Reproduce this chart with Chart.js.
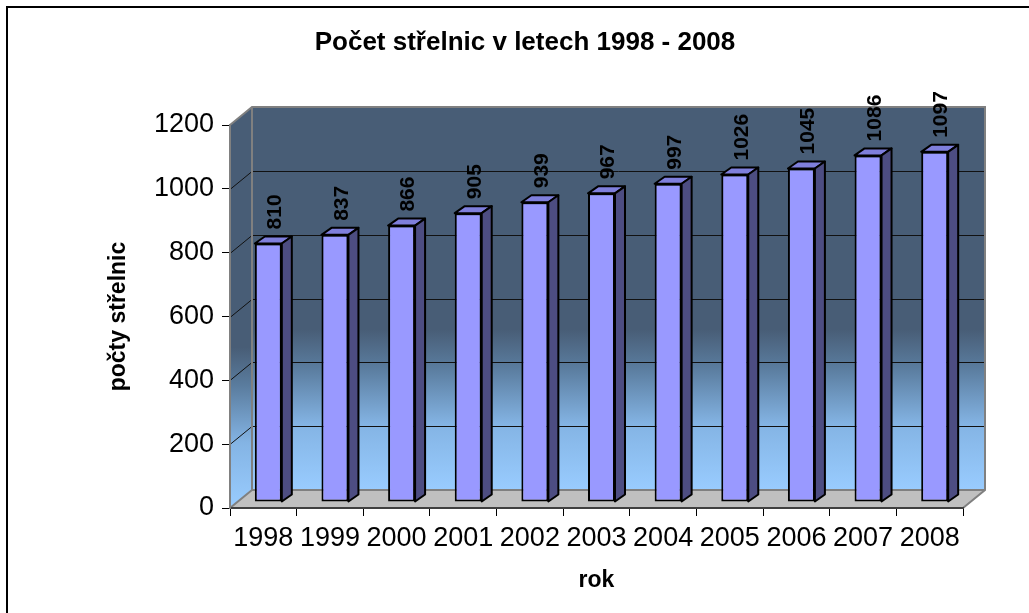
<!DOCTYPE html>
<html>
<head>
<meta charset="utf-8">
<script src="https://cdn.jsdelivr.net/npm/chart.js@4"></script>
<style>
  html, body { margin: 0; padding: 0; background: #fff; }
  #wrap { width: 1029px; height: 613px; }
</style>
</head>
<body>
<div id="wrap"><canvas id="chart" width="1029" height="613"></canvas></div>
<script>
// ── Data ─────────────────────────────────────────────────────
const years  = ['1998','1999','2000','2001','2002','2003','2004','2005','2006','2007','2008'];
const counts = [810, 837, 866, 905, 939, 967, 997, 1026, 1045, 1086, 1097];
const yTickValues = [0, 200, 400, 600, 800, 1000, 1200];

const chartTitle = 'Počet střelnic v letech 1998 - 2008';
const xTitle     = 'rok';
const yTitle     = 'počty střelnic';

// ── 3D look (Excel style) ────────────────────────────────────
const DEPTH_X = 22,  DEPTH_Y = -18;   // wall depth
const SHIFT_X = 5,   SHIFT_Y = -6;    // bars sit a bit into the depth
const BAR_DX  = 10,  BAR_DY  = -7;    // bar thickness

function wallGradient(ctx, top, bottom) {
  const g = ctx.createLinearGradient(0, top, 0, bottom);
  g.addColorStop(0,    '#485d76');
  g.addColorStop(0.58, '#485d76');
  g.addColorStop(0.68, '#5a7c9e');
  g.addColorStop(0.83, '#84b4e4');
  g.addColorStop(1,    '#99ccff');
  return g;
}

const walls3d = {
  id: 'walls3d',
  beforeDraw(chart) {
    const { ctx, chartArea: a, scales: { y } } = chart;
    const L = a.left, R = a.right, T = a.top, B = a.bottom;

    ctx.save();
    // left side wall
    ctx.fillStyle = wallGradient(ctx, T, B);
    ctx.beginPath();
    ctx.moveTo(L, T); ctx.lineTo(L + DEPTH_X, T + DEPTH_Y);
    ctx.lineTo(L + DEPTH_X, B + DEPTH_Y); ctx.lineTo(L, B);
    ctx.closePath(); ctx.fill();

    // back wall
    ctx.fillStyle = wallGradient(ctx, T + DEPTH_Y, B + DEPTH_Y);
    ctx.fillRect(L + DEPTH_X, T + DEPTH_Y, R - L, B - T);

    // floor
    ctx.fillStyle = '#c0c0c0';
    ctx.beginPath();
    ctx.moveTo(L, B); ctx.lineTo(R, B);
    ctx.lineTo(R + DEPTH_X, B + DEPTH_Y); ctx.lineTo(L + DEPTH_X, B + DEPTH_Y);
    ctx.closePath(); ctx.fill();

    // grid lines on the back and side walls
    ctx.strokeStyle = '#111';
    ctx.lineWidth = 1;
    yTickValues.forEach(v => {
      if (v === yTickValues[0] || v === yTickValues[yTickValues.length - 1]) return;
      const py = Math.round(y.getPixelForValue(v)) + 0.5;
      ctx.beginPath();
      ctx.moveTo(L, py);
      ctx.lineTo(L + DEPTH_X, py + DEPTH_Y);
      ctx.lineTo(R + DEPTH_X, py + DEPTH_Y);
      ctx.stroke();
    });

    // wall edges
    ctx.strokeStyle = '#808080';
    ctx.lineWidth = 2;
    ctx.beginPath();
    ctx.moveTo(L, T); ctx.lineTo(L + DEPTH_X, T + DEPTH_Y);
    ctx.lineTo(R + DEPTH_X, T + DEPTH_Y); ctx.lineTo(R + DEPTH_X, B + DEPTH_Y);
    ctx.lineTo(R, B);
    ctx.moveTo(L + DEPTH_X, T + DEPTH_Y); ctx.lineTo(L + DEPTH_X, B + DEPTH_Y);
    ctx.lineTo(R + DEPTH_X, B + DEPTH_Y);
    ctx.moveTo(L, B); ctx.lineTo(L + DEPTH_X, B + DEPTH_Y);
    ctx.stroke();
    ctx.restore();
  },
  beforeDatasetsDraw(chart) {
    chart.ctx.save();
    chart.ctx.translate(SHIFT_X, SHIFT_Y);
  },
  afterDatasetsDraw(chart) {
    const ctx  = chart.ctx;
    const meta = chart.getDatasetMeta(0);
    const data = chart.data.datasets[0].data;

    ctx.lineWidth = 2;
    ctx.lineJoin  = 'round';
    ctx.strokeStyle = '#000';
    meta.data.forEach((bar, i) => {
      const { x, y, width, base } = bar.getProps(['x', 'y', 'width', 'base'], true);
      const l = x - width / 2, r = x + width / 2;

      // top face
      ctx.fillStyle = '#7f7fdc';
      ctx.beginPath();
      ctx.moveTo(l, y); ctx.lineTo(l + BAR_DX, y + BAR_DY);
      ctx.lineTo(r + BAR_DX, y + BAR_DY); ctx.lineTo(r, y);
      ctx.closePath(); ctx.fill(); ctx.stroke();

      // side face
      ctx.fillStyle = '#4d4d82';
      ctx.beginPath();
      ctx.moveTo(r, y); ctx.lineTo(r + BAR_DX, y + BAR_DY);
      ctx.lineTo(r + BAR_DX, base + BAR_DY); ctx.lineTo(r, base);
      ctx.closePath(); ctx.fill(); ctx.stroke();

      // value label
      ctx.save();
      ctx.translate(x + 7, y - 14);
      ctx.rotate(-Math.PI / 2);
      ctx.font = 'bold 21px Arial, "Liberation Sans", sans-serif';
      ctx.fillStyle = '#000';
      ctx.textAlign = 'left';
      ctx.textBaseline = 'middle';
      ctx.fillText(String(data[i]), 0, 0);
      ctx.restore();
    });
    ctx.restore();
  },
  afterDraw(chart) {
    // outer frame (only top and left edges are visible)
    const ctx = chart.ctx;
    ctx.save();
    ctx.strokeStyle = '#000';
    ctx.lineWidth = 2;
    ctx.beginPath();
    ctx.moveTo(7, chart.height); ctx.lineTo(7, 7); ctx.lineTo(chart.width, 7);
    ctx.stroke();
    ctx.restore();
  }
};

// ── Chart ────────────────────────────────────────────────────
Chart.defaults.font.family = 'Arial, "Liberation Sans", sans-serif';
Chart.defaults.color = '#000';

new Chart(document.getElementById('chart').getContext('2d'), {
  type: 'bar',
  data: {
    labels: years,
    datasets: [{
      data: counts,
      backgroundColor: '#9999ff',
      borderColor: '#000',
      borderWidth: 2,
      borderSkipped: false,
      barPercentage: 0.405,
      categoryPercentage: 1,
    }]
  },
  options: {
    responsive: false,
    animation: false,
    devicePixelRatio: 1,
    layout: { padding: { left: 87, right: 66, top: 10, bottom: 10 } },
    plugins: {
      legend:  { display: false },
      tooltip: { enabled: false },
      title: {
        display: true,
        text: chartTitle,
        color: '#000',
        font: { size: 26, weight: 'bold' },
        padding: { top: 17, bottom: 66.8 },
      }
    },
    scales: {
      x: {
        offset: true,
        afterFit: s => { s.height = 95; },
        grid:   { offset: true, drawOnChartArea: false, color: '#000', tickLength: 8, lineWidth: 1 },
        border: { color: '#404040', width: 2 },
        ticks:  { font: { size: 27 }, color: '#000', padding: 6, maxRotation: 0, autoSkip: false },
        title:  { display: true, text: xTitle, font: { size: 23, weight: 'bold' }, color: '#000', padding: { top: 0, bottom: 9 } },
      },
      y: {
        min: yTickValues[0],
        max: yTickValues[yTickValues.length - 1],
        afterFit: s => { s.width = 143; },
        afterBuildTicks: s => { s.ticks = yTickValues.map(v => ({ value: v })); },
        grid:   { drawOnChartArea: false, color: '#000', tickLength: 8, lineWidth: 1 },
        border: { color: '#808080', width: 2 },
        ticks:  { font: { size: 27 }, color: '#000', padding: 8, callback: v => String(v) },
        title:  { display: true, text: yTitle, font: { size: 23, weight: 'bold' }, color: '#000', padding: { top: 18, bottom: 0 } },
      }
    }
  },
  plugins: [walls3d]
});
</script>
</body>
</html>
